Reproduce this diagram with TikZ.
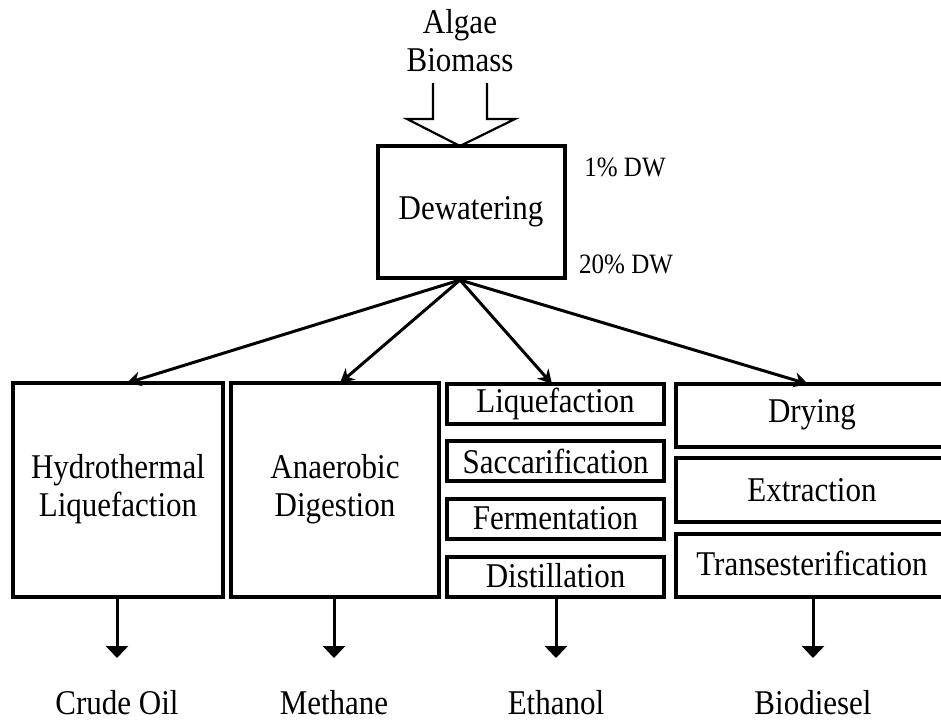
\documentclass[tikz,border=0pt]{standalone}
\usepackage{fontspec}
\usepackage{graphicx}
\setmainfont{Liberation Serif}
\usetikzlibrary{arrows.meta}
\newcommand{\tallt}[1]{\scalebox{1}[1.12]{#1}}
\tikzset{
  box/.style={draw=black, line width=3.3pt, fill=none},
  lbl/.style={font=\fontsize{31}{38}\selectfont, align=center, inner sep=0pt},
  small/.style={font=\fontsize{25}{28}\selectfont, inner sep=0pt},
  conn/.style={line width=3pt, -{Stealth[length=14pt,width=15pt]}},
  down/.style={line width=3pt, -{Triangle[length=12pt,width=22pt]}},
}
\begin{document}
\begin{tikzpicture}[x=1pt,y=-1pt]
\useasboundingbox (0,0) rectangle (941,721);
\clip (0,0) rectangle (941,721);
% top label
\node[lbl] (algae) at (460,41) {\tallt{Algae}\\\tallt{Biomass}};
% hollow input arrow
\draw[line width=2.2pt, line join=miter] (433,83) -- (433,119) -- (407,119) -- (460,146) -- (515,119) -- (487,119) -- (487,83);
% dewatering
\draw[box] (378,146) rectangle (565,278);
\node[lbl] (dew) at (471,212) {\tallt{Dewatering}};
\coordinate (src) at (460,280);
\node[small] (dw1) at (625,167) {\tallt{1\% DW}};
\node[small, anchor=west] (dw20) at (579,264) {\tallt{20\% DW}};
% column boxes
\draw[box] (13,383) rectangle (223,597);
\node[lbl] (htl) at (118,489) {\tallt{Hydrothermal}\\\tallt{Liquefaction}};
\draw[box] (231,383) rectangle (439,597);
\node[lbl] (ad) at (335,489) {\tallt{Anaerobic}\\\tallt{Digestion}};
\draw[box] (447,384) rectangle (664,424);
\node[lbl] (liq) at (555.5,404) {\tallt{Liquefaction}};
\draw[box] (447,441) rectangle (664,481);
\node[lbl] (sac) at (555.5,461) {\tallt{Saccarification}};
\draw[box] (447,499) rectangle (664,539);
\node[lbl] (fer) at (555.5,518) {\tallt{Fermentation}};
\draw[box] (447,557) rectangle (664,597);
\node[lbl] (dis) at (555.5,576) {\tallt{Distillation}};
\draw[box] (676,384) rectangle (960,447);
\node[lbl] (dry) at (812,415) {\tallt{Drying}};
\draw[box] (676,458) rectangle (960,522);
\node[lbl] (ext) at (812,490) {\tallt{Extraction}};
\draw[box] (676,534) rectangle (960,597);
\node[lbl] (tra) at (812,563) {\tallt{Transesterification}};
% targets
\coordinate (t1) at (127,383);
\coordinate (t2) at (340,383);
\coordinate (t3) at (552,384);
\coordinate (t4) at (808,384);
\draw[conn] (src) -- (t1);
\draw[conn] (src) -- (t2);
\draw[conn] (src) -- (t3);
\draw[conn] (src) -- (t4);
% outputs
\node[lbl] (crude) at (117,703) {\tallt{Crude Oil}};
\node[lbl] (meth) at (334,703) {\tallt{Methane}};
\node[lbl] (eth) at (556,703) {\tallt{Ethanol}};
\node[lbl] (bio) at (813,703) {\tallt{Biodiesel}};
\coordinate (b1) at (117,598);
\coordinate (b2) at (334,598);
\coordinate (b3) at (556,598);
\coordinate (b4) at (813,598);
\coordinate (e1) at (117,658);
\coordinate (e2) at (334,658);
\coordinate (e3) at (556,658);
\coordinate (e4) at (813,658);
\draw[down] (b1) -- (e1);
\draw[down] (b2) -- (e2);
\draw[down] (b3) -- (e3);
\draw[down] (b4) -- (e4);
\end{tikzpicture}
\end{document}
